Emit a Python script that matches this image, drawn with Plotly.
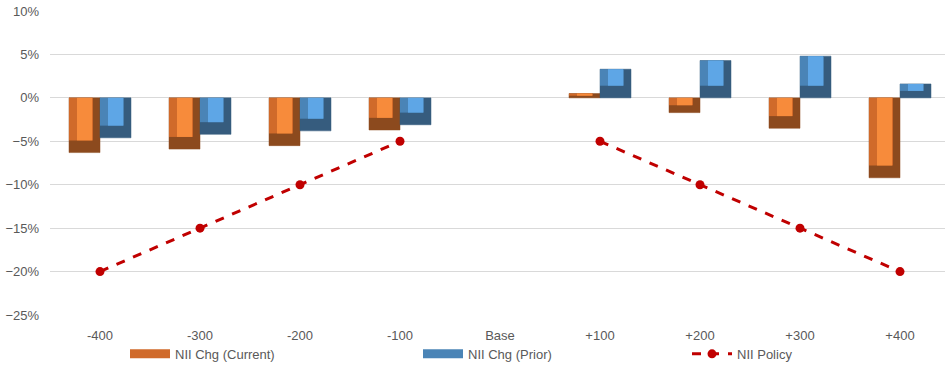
import numpy as np
import plotly.graph_objects as go

categories = ["-400", "-300", "-200", "-100", "Base", "+100", "+200", "+300", "+400"]
nii_current = [-0.063, -0.059, -0.055, -0.037, None, 0.005, -0.017, -0.035, -0.092]
nii_prior = [-0.046, -0.042, -0.038, -0.031, None, 0.033, 0.043, 0.048, 0.016]
nii_policy = [-0.20, -0.15, -0.10, -0.05, None, -0.05, -0.10, -0.15, -0.20]

BEVEL = 0.014  # visual bevel depth (in axis units), styling only
BAR_W = 0.31


def bevel_layers(vals):
    """Return (base, height) for the lit part of a bevelled bar: dark edge at bottom."""
    v = np.array([np.nan if x is None else x for x in vals], dtype=float)
    b = np.minimum(BEVEL, np.abs(v) / 2)
    base = np.where(v >= 0, b, 0.0)
    top = np.where(v >= 0, v, v + b)
    return base, top - base


fig = go.Figure()

series = [
    ("NII Chg (Current)", nii_current, -BAR_W, ("#8C4A1E", "#D06A2A", "#F78B3B"), "legend"),
    ("NII Chg (Prior)", nii_prior, 0.0, ("#365C7E", "#4A84B6", "#5EA6E6"), "legend2"),
]

for name, vals, off, (dark, mid, light), lg in series:
    base, h = bevel_layers(vals)
    fig.add_trace(go.Bar(
        x=categories, y=vals, name=name, width=BAR_W, offset=off,
        marker=dict(color=dark, line=dict(color=dark, width=0.5)),
        showlegend=False,
    ))
    fig.add_trace(go.Bar(
        x=categories, y=h, base=base, width=BAR_W - 0.07, offset=off,
        marker=dict(color=mid, line=dict(width=0)), showlegend=False, hoverinfo="skip",
    ))
    fig.add_trace(go.Bar(
        x=categories, y=h, base=base, width=BAR_W - 0.16, offset=off + 0.08,
        marker=dict(color=light, line=dict(width=0)), showlegend=False, hoverinfo="skip",
    ))
    # legend swatch (wide bar-like key)
    fig.add_trace(go.Scatter(
        x=[None], y=[None], name=name, mode="lines",
        line=dict(color=mid, width=9), legend=lg, showlegend=True,
    ))

fig.add_trace(go.Scatter(
    x=categories, y=nii_policy, name="NII Policy", mode="lines+markers",
    line=dict(color="#C00000", width=3, dash="dash"),
    marker=dict(color="#C00000", size=9),
    connectgaps=False, legend="legend3",
))

font = dict(family="Liberation Sans, Arial, sans-serif", size=13, color="#595959")
leg_common = dict(orientation="h", yanchor="middle", y=-0.128, xanchor="left",
                  bgcolor="rgba(0,0,0,0)", font=font, itemwidth=40)

fig.update_layout(
    width=947, height=369,
    margin=dict(l=50, r=2, t=11, b=54, autoexpand=False),
    paper_bgcolor="white", plot_bgcolor="white",
    barmode="overlay",
    font=font,
    xaxis=dict(type="category", categoryorder="array", categoryarray=categories,
               range=[-0.5, 8.45], showgrid=False, showline=False, ticks="",
               ticklabelstandoff=11, tickfont=font, automargin=False),
    yaxis=dict(range=[-0.25, 0.10], dtick=0.05, tickformat=".0%", showgrid=True,
               gridcolor="#D9D9D9", gridwidth=1, zeroline=False, showline=False,
               ticks="", ticklabelstandoff=10, tickfont=font, automargin=False),
    legend=dict(x=(125 - 50) / 895, **leg_common),
    legend2=dict(x=(418 - 50) / 895, **leg_common),
    legend3=dict(x=(687 - 50) / 895, **leg_common),
    showlegend=True,
)

fig.write_html("out.html", config={"displayModeBar": False},
               post_script="document.body.style.margin='0';")
